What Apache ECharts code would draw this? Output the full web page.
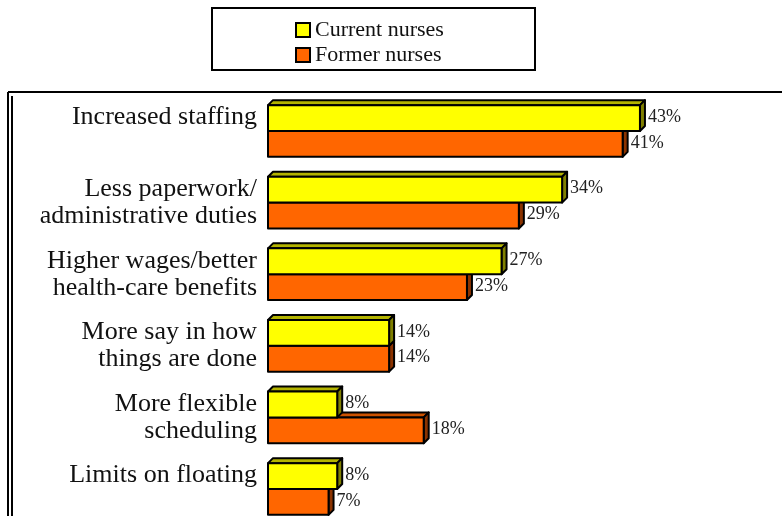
<!DOCTYPE html>
<html>
<head>
<meta charset="utf-8">
<script src="https://cdn.jsdelivr.net/npm/echarts@6/dist/echarts.min.js"></script>
<style>html,body{margin:0;padding:0;background:#fff;}#c{width:782px;height:516px;}</style>
</head>
<body>
<div id="c"></div>
<script>
const categories = ['Increased staffing', 'Less paperwork/\nadministrative duties', 'Higher wages/better\nhealth-care benefits', 'More say in how\nthings are done', 'More flexible\nscheduling', 'Limits on floating'];
const seriesNames = ['Current nurses', 'Former nurses'];
const currentNurses = [43, 34, 27, 14, 8, 8];
const formerNurses = [41, 29, 23, 14, 18, 7];

const D = 5;
const styles = [
  {front: '#FFFF00', top: '#B4B400', side: '#808000'},
  {front: '#FF6600', top: '#CC5200', side: '#8B3300'}
];

function makeRender(si) {
  return function (params, api) {
    const idx = api.value(1);
    const v = api.value(0);
    const p0 = api.coord([0, idx]);
    const p1 = api.coord([v, idx]);
    const band = api.size([0, 1])[1];
    const h = band * 26 / 72;
    const cy = p0[1];
    const y0 = si === 0 ? cy - h : cy;
    const y1 = y0 + h;
    const x0 = p0[0], x1 = p1[0];
    const st = styles[si];
    const stroke = {stroke: '#000', lineWidth: 2, lineJoin: 'round'};
    return {
      type: 'group',
      children: [
        {type: 'polygon', shape: {points: [[x0, y0], [x0 + D, y0 - D], [x1 + D, y0 - D], [x1, y0]]}, style: Object.assign({fill: st.top}, stroke)},
        {type: 'polygon', shape: {points: [[x1, y0], [x1 + D, y0 - D], [x1 + D, y1 - D], [x1, y1]]}, style: Object.assign({fill: st.side}, stroke)},
        {type: 'rect', shape: {x: x0, y: y0, width: x1 - x0, height: h}, style: Object.assign({fill: st.front}, stroke)},
        {type: 'text', style: {x: x1 + D + 3, y: (y0 + y1) / 2 - 1, text: v + '%', fill: '#222', font: '18px "Liberation Serif"', textVerticalAlign: 'middle', textAlign: 'left'}}
      ]
    };
  };
}

const chart = echarts.init(document.getElementById('c'), null, {renderer: 'canvas'});
chart.setOption({
  animation: false,
  backgroundColor: '#fff',
  grid: {left: 268, top: 131, width: 432.5, height: 360},
  xAxis: {type: 'value', min: 0, max: 50, show: false},
  yAxis: {
    type: 'category', data: categories, inverse: true, boundaryGap: false,
    axisLine: {show: false}, axisTick: {show: false}, splitLine: {show: false},
    axisLabel: {
      margin: 11, color: '#111', fontFamily: 'Liberation Serif', fontSize: 26, lineHeight: 27, align: 'right',
      formatter: function (s) { return s.indexOf('\n') < 0 ? s + '\n ' : s; }
    }
  },
  legend: {
    orient: 'vertical', left: 290, top: 14, itemWidth: 14, itemHeight: 14, itemGap: 3,
    textStyle: {fontFamily: 'Liberation Serif', fontSize: 22, color: '#111'},
    data: [
      {name: seriesNames[0], icon: 'rect', itemStyle: {color: '#FFFF00', borderColor: '#000', borderWidth: 2}},
      {name: seriesNames[1], icon: 'rect', itemStyle: {color: '#FF6600', borderColor: '#000', borderWidth: 2}}
    ]
  },
  graphic: [
    {type: 'rect', shape: {x: 212, y: 8, width: 323, height: 62}, style: {fill: 'none', stroke: '#000', lineWidth: 2}},
    {type: 'line', shape: {x1: 8, y1: 92, x2: 782, y2: 92}, style: {stroke: '#000', lineWidth: 2}},
    {type: 'line', shape: {x1: 8, y1: 92, x2: 8, y2: 516}, style: {stroke: '#000', lineWidth: 2}},
    {type: 'line', shape: {x1: 12, y1: 96, x2: 12, y2: 516}, style: {stroke: '#000', lineWidth: 2}}
  ],
  series: [
    {name: seriesNames[0], type: 'custom', z: 3, itemStyle: {color: '#FFFF00'}, encode: {x: 0, y: 1},
      renderItem: makeRender(0), data: currentNurses.map((v, i) => [v, i])},
    {name: seriesNames[1], type: 'custom', z: 2, itemStyle: {color: '#FF6600'}, encode: {x: 0, y: 1},
      renderItem: makeRender(1), data: formerNurses.map((v, i) => [v, i])}
  ]
});
</script>
</body>
</html>
